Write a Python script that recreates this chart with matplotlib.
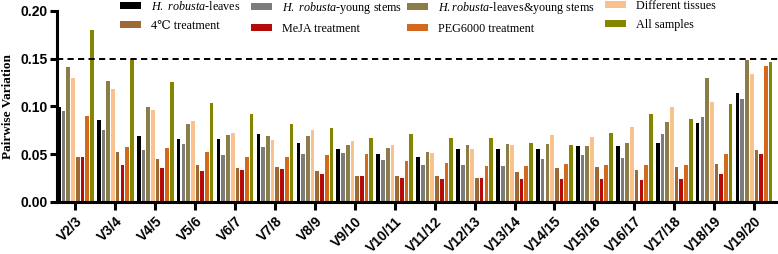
import matplotlib
matplotlib.use("Agg")
import matplotlib.pyplot as plt
import numpy as np
from matplotlib.font_manager import FontProperties
from matplotlib.patches import Patch

groups = ["V2/3", "V3/4", "V4/5", "V5/6", "V6/7", "V7/8", "V8/9", "V9/10", "V10/11",
          "V11/12", "V12/13", "V13/14", "V14/15", "V15/16", "V16/17", "V17/18",
          "V18/19", "V19/20"]

leaves = [0.099, 0.086, 0.069, 0.066, 0.066, 0.071, 0.062, 0.055, 0.050, 0.047,
          0.055, 0.055, 0.055, 0.058, 0.058, 0.062, 0.083, 0.114]
stems = [0.095, 0.075, 0.054, 0.060, 0.049, 0.057, 0.050, 0.051, 0.044, 0.039,
         0.039, 0.037, 0.045, 0.049, 0.046, 0.071, 0.089, 0.108]
leaves_stems = [0.141, 0.127, 0.099, 0.082, 0.070, 0.069, 0.069, 0.059, 0.056, 0.052,
                0.059, 0.061, 0.060, 0.058, 0.062, 0.084, 0.130, 0.149]
tissues = [0.130, 0.118, 0.096, 0.085, 0.072, 0.065, 0.075, 0.064, 0.059, 0.051,
           0.055, 0.059, 0.070, 0.068, 0.078, 0.099, 0.105, 0.134]
cold = [0.047, 0.052, 0.045, 0.038, 0.035, 0.036, 0.032, 0.027, 0.027, 0.027,
        0.025, 0.031, 0.035, 0.036, 0.033, 0.036, 0.040, 0.054]
meja = [0.047, 0.038, 0.035, 0.032, 0.033, 0.034, 0.029, 0.027, 0.025, 0.024,
        0.025, 0.024, 0.024, 0.024, 0.023, 0.024, 0.029, 0.050]
peg = [0.090, 0.057, 0.056, 0.052, 0.047, 0.047, 0.049, 0.050, 0.043, 0.041,
       0.037, 0.037, 0.040, 0.038, 0.039, 0.038, 0.050, 0.142]
all_samples = [0.180, 0.150, 0.126, 0.103, 0.092, 0.081, 0.077, 0.067, 0.071, 0.067,
               0.067, 0.062, 0.059, 0.072, 0.092, 0.087, 0.102, 0.146]

series_labels = [r"$\it{H.\ robusta}$-leaves",
                 r"$\it{H.\ robusta}$-young stems",
                 r"$\it{H.robusta}$-leaves&young stems",
                 "Different tissues",
                 "4\u2103 treatment",
                 "MeJA treatment",
                 "PEG6000 treatment",
                 "All samples"]
series = [leaves, stems, leaves_stems, tissues, cold, meja, peg, all_samples]
colors = ["#000000", "#7c7c7c", "#8c7c48", "#f8c18e",
          "#9c6a32", "#b40a0a", "#d2691c", "#858500"]

plt.rcParams["mathtext.fontset"] = "custom"
plt.rcParams["mathtext.it"] = "Liberation Serif:italic"
plt.rcParams["mathtext.rm"] = "Liberation Serif"

fig = plt.figure(figsize=(7.78, 2.54), dpi=100)
ax = fig.add_axes([57 / 778, 1 - 201.7 / 254, 1 - 57 / 778, (201.7 - 11) / 254])

x = np.arange(len(groups))
slot = 0.118
width = 0.092
for i, (vals, c) in enumerate(zip(series, colors)):
    ax.bar(x + (i - 3.5) * slot, vals, width=width, color=c, linewidth=0)

ax.axhline(0.15, color="black", linestyle=(0, (3.2, 2.2)), linewidth=1.4)

ax.set_xlim(-0.46, 17.6)
ax.set_ylim(0, 0.20)
ax.set_yticks([0.0, 0.05, 0.10, 0.15, 0.20])
ax.set_yticklabels(["0.00", "0.05", "0.10", "0.15", "0.20"])
ax.set_xticks(x)
ax.set_xticklabels(groups, rotation=45, ha="right", va="top", rotation_mode="anchor")

for lab in ax.get_yticklabels() + ax.get_xticklabels():
    lab.set_fontfamily("Liberation Sans")
    lab.set_fontweight("bold")
    lab.set_fontsize(10)

ax.spines["top"].set_visible(False)
ax.spines["right"].set_visible(False)
ax.spines["left"].set_linewidth(2.2)
ax.spines["bottom"].set_linewidth(2.2)
ax.tick_params(axis="y", length=5, width=2.2, pad=2)
ax.tick_params(axis="x", length=6, width=2.2, pad=3)

ax.set_ylabel("Pairwise Variation", fontfamily="Liberation Serif", fontweight="bold",
              fontsize=9.5)
ax.yaxis.set_label_coords(-43 / 721, 0.5)

# legend: two rows, four columns; one small legend per column so the columns
# sit where they do in the reference
prop = FontProperties(family=["Liberation Serif", "DejaVu Serif"], size=8.7)
col_x = [120, 251, 407, 605]
for j in range(4):
    idx = [j, j + 4]
    hs = [Patch(facecolor=colors[k], edgecolor="none") for k in idx]
    ls = [series_labels[k] for k in idx]
    fig.legend(hs, ls, ncol=1, loc="upper left",
               bbox_to_anchor=(col_x[j] / 778, 1.0), frameon=False, prop=prop,
               handlelength=1.75, handleheight=0.45, handletextpad=0.8,
               labelspacing=0.55, borderpad=0, borderaxespad=0)

fig.savefig("out.png", dpi=100)
